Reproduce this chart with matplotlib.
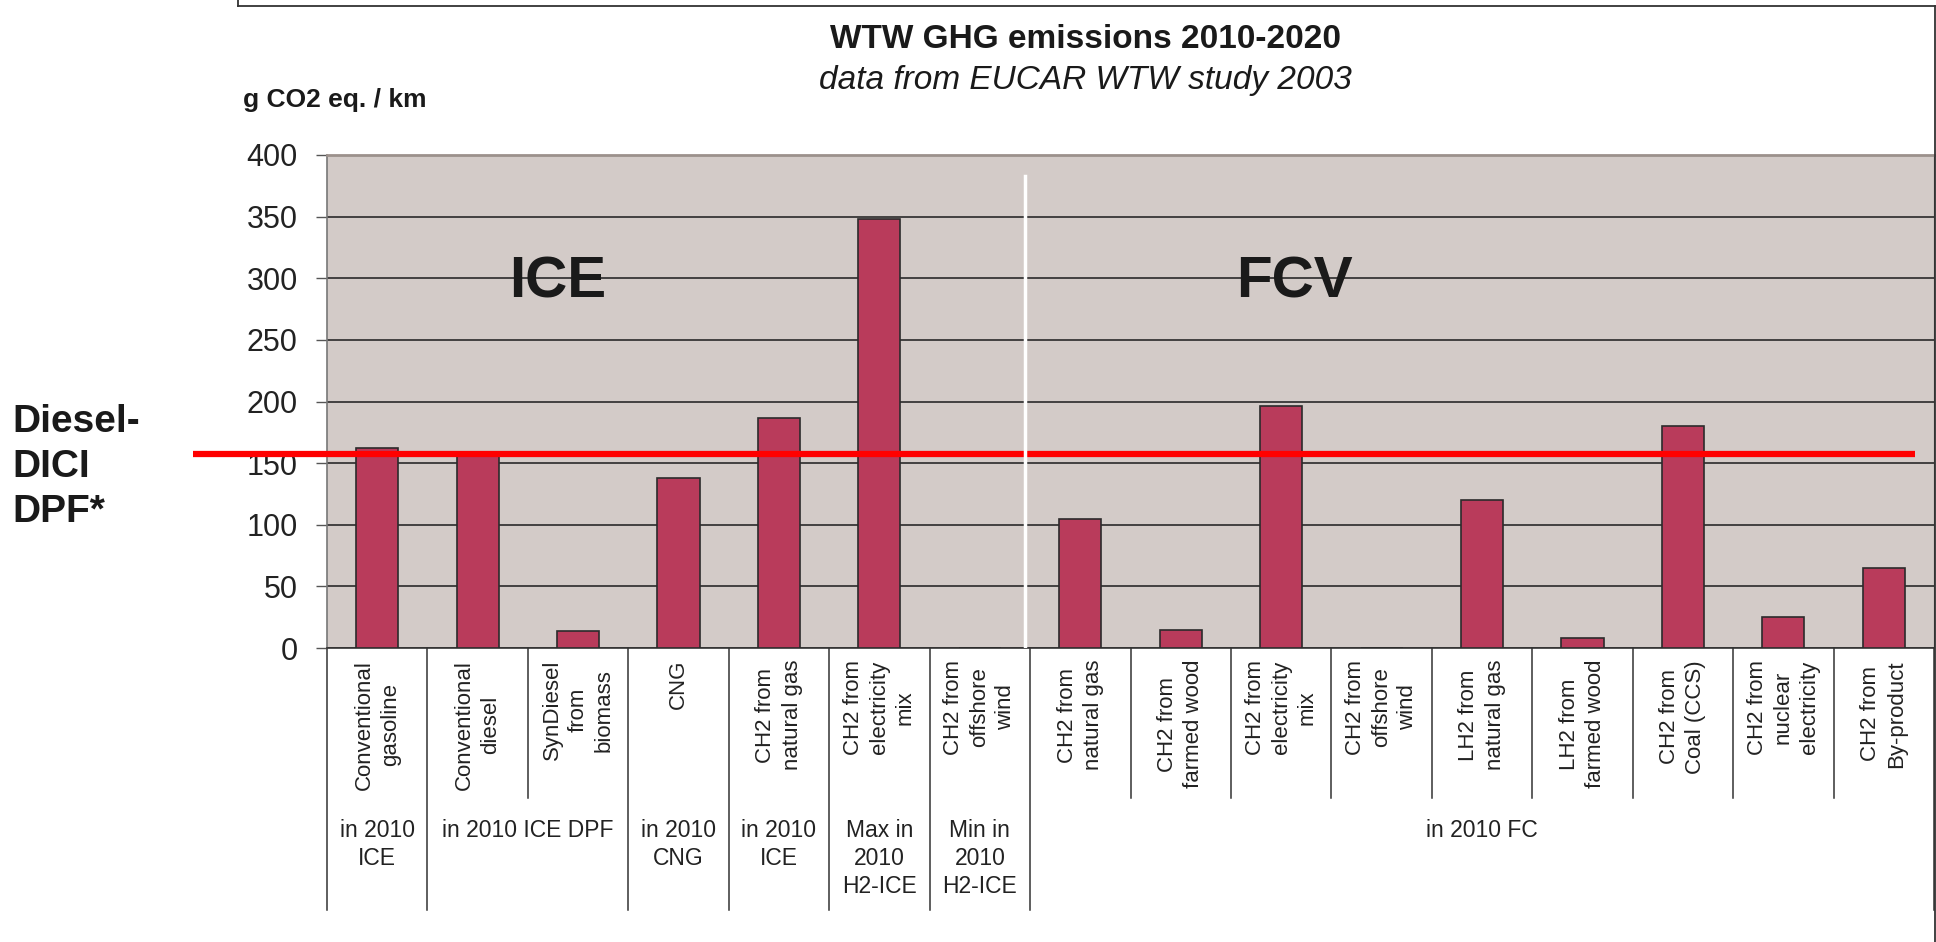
import numpy as np
import matplotlib
matplotlib.use("Agg")
import matplotlib.pyplot as plt
import matplotlib.transforms as mtransforms
from matplotlib.lines import Line2D

plt.rcParams['font.family'] = ['Liberation Sans', 'DejaVu Sans']

# data
categories = ["Conventional\ngasoline", "Conventional\ndiesel", "SynDiesel\nfrom\nbiomass",
              "CNG", "CH2 from\nnatural gas", "CH2 from\nelectricity\nmix",
              "CH2 from\noffshore\nwind",
              "CH2 from\nnatural gas", "CH2 from\nfarmed wood", "CH2 from\nelectricity\nmix",
              "CH2 from\noffshore\nwind", "LH2 from\nnatural gas", "LH2 from\nfarmed wood",
              "CH2 from\nCoal (CCS)", "CH2 from\nnuclear\nelectricity", "CH2 from\nBy-product"]
values = [162, 157, 14, 138, 187, 348, 0, 105, 15, 196, 0, 120, 8, 180, 25, 65]
group_labels = ["in 2010\nICE", "in 2010 ICE DPF", "in 2010\nCNG", "in 2010\nICE",
                "Max in\n2010\nH2-ICE", "Min in\n2010\nH2-ICE", "in 2010 FC"]
group_first = [0, 1, 3, 4, 5, 6, 7]
group_last = [0, 2, 3, 4, 5, 6, 15]
ref_value = 157
ref_label = "Diesel-\nDICI\nDPF*"
yticks = [0, 50, 100, 150, 200, 250, 300, 350, 400]

W, H = 1936, 942
fig = plt.figure(figsize=(W / 100, H / 100), dpi=100)


def fx(px):
    return px / W


def fy(py):
    return 1 - py / H


top_px, bot_px = 155, 648
ax = fig.add_axes([fx(327), fy(bot_px), fx(1934) - fx(327), fy(top_px) - fy(bot_px)])
ax.set_facecolor('#D3CBC8')
x = np.arange(len(values))
ax.bar(x, values, width=0.42, color='#B93B5B', edgecolor='#2B2B2B', linewidth=1.2, zorder=3)
ax.set_xlim(-0.5, len(values) - 0.5)
ax.set_ylim(0, 400)
ax.set_yticks(yticks)
ax.set_yticklabels([str(v) for v in yticks], fontsize=22, color='#222222')
ax.tick_params(axis='y', length=8, width=1, color='#555555', pad=13)
ax.set_xticks([])
ax.set_axisbelow(True)
ax.grid(axis='y', color='#2a2a2a', linewidth=1.2)
ax.spines['top'].set_color('#9C918C')
ax.spines['top'].set_linewidth(2)
ax.spines['left'].set_color('#777777')
ax.spines['left'].set_linewidth(1.2)
ax.spines['right'].set_color('#333333')
ax.spines['bottom'].set_color('#333333')
ax.spines['bottom'].set_linewidth(1.2)


def ax_y(py):
    return (bot_px - py) / (bot_px - top_px)


xdata_yaxes = mtransforms.blended_transform_factory(ax.transData, ax.transAxes)
xaxes_ydata = mtransforms.blended_transform_factory(ax.transAxes, ax.transData)

# reference line and the white divider between ICE and FCV
ax.plot([(193 - 327) / 1607, (1915 - 327) / 1607], [ref_value, ref_value],
        transform=xaxes_ydata, color='#FF0000', lw=4.5, clip_on=False,
        solid_capstyle='butt', zorder=5)
ax.axvline(6.45, ymin=0, ymax=0.957, color='white', lw=2.5, zorder=6)

# rotated category labels
for i, lab in enumerate(categories):
    ax.text(i, ax_y(660), lab, transform=xdata_yaxes, rotation=90, ha='center', va='top',
            multialignment='center', fontsize=16, linespacing=1.32, color='#222222',
            clip_on=False)

# separator lines under the axis
long_b = set(group_first) | {len(values)}
for b in range(len(values) + 1):
    end = 910 if b in long_b else 798
    ax.plot([b - 0.5, b - 0.5], [0, ax_y(end)], transform=xdata_yaxes,
            color='#333333', lw=1.1, clip_on=False)

# group labels
for lab, a, b in zip(group_labels, group_first, group_last):
    ax.text((a + b) / 2, ax_y(819), lab, transform=xdata_yaxes, ha='center', va='top',
            multialignment='center', fontsize=16.5, linespacing=1.28, color='#222222',
            clip_on=False)

# outer frame
for xs, ys in [([238, 238], [0, 6]), ([238, 1935], [6, 6]), ([1935, 1935], [6, 942])]:
    fig.add_artist(Line2D([fx(v) for v in xs], [fy(v) for v in ys],
                          transform=fig.transFigure, color='#333333', lw=1.3))

fig.text(fx(1085), fy(40), "WTW GHG emissions 2010-2020", fontsize=24, fontweight='bold',
         ha='center', va='center', color='#1a1a1a')
fig.text(fx(1085), fy(80), "data from EUCAR WTW study 2003", fontsize=24, style='italic',
         ha='center', va='center', color='#1a1a1a')
fig.text(fx(243), fy(100), "g CO2 eq. / km", fontsize=19, fontweight='bold',
         ha='left', va='center', color='#1a1a1a')
fig.text(fx(558), fy(283), "ICE", fontsize=42, fontweight='bold', ha='center', va='center',
         color='#1a1a1a')
fig.text(fx(1294), fy(283), "FCV", fontsize=42, fontweight='bold', ha='center', va='center',
         color='#1a1a1a')
fig.text(fx(12), fy(467), ref_label, fontsize=28, fontweight='bold', ha='left', va='center',
         linespacing=1.32, color='#1a1a1a')

fig.savefig("out.png", dpi=100, facecolor='white')
